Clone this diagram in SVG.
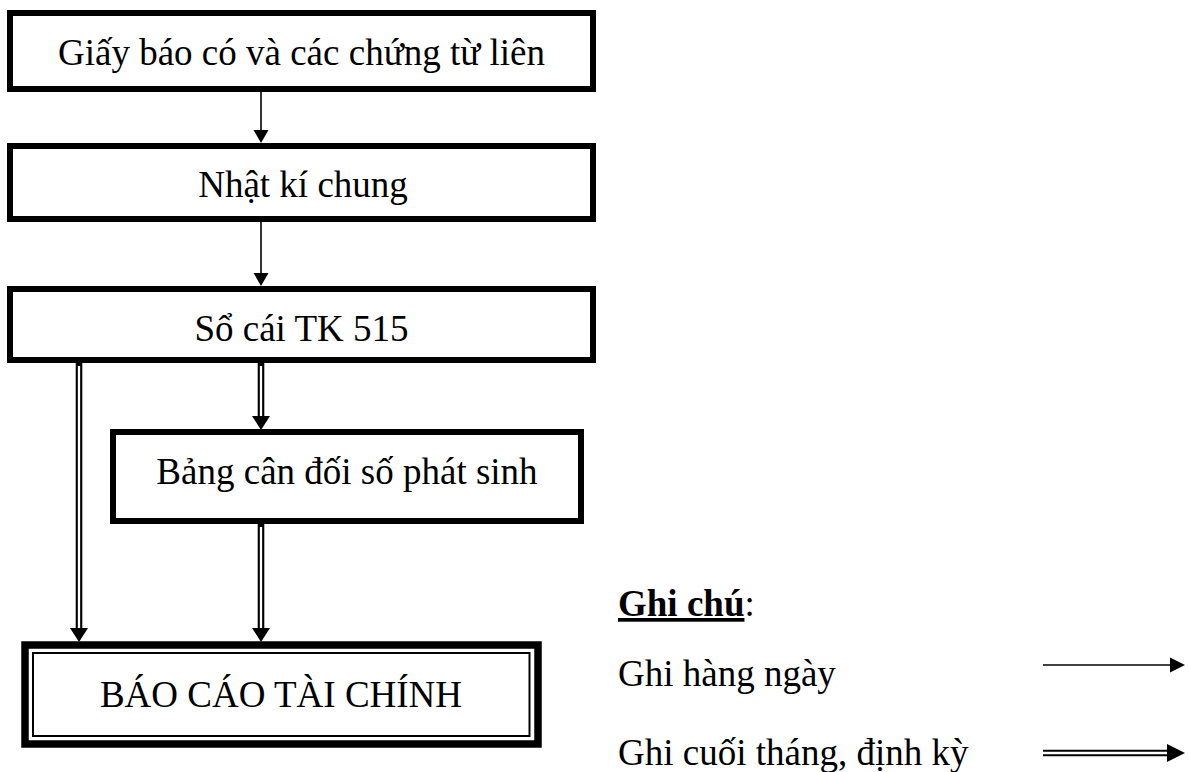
<svg xmlns="http://www.w3.org/2000/svg" width="1189" height="772" viewBox="0 0 1189 772">
  <style>
    .box { fill: #fff; stroke: #000; stroke-width: 6; }
    .thin { fill: none; stroke: #000; stroke-width: 2; }
    .label { font-family: "Liberation Serif", "Times New Roman", serif; font-size: 37px; fill: #000; }
    .mid { text-anchor: middle; }
    .line1 { stroke: #000; stroke-width: 1.6; fill: none; }
    .dbl-out { stroke: #000; stroke-width: 6.6; fill: none; }
    .dbl-in { stroke: #fff; stroke-width: 2.3; fill: none; }
    .head { fill: #000; }
  </style>
  <rect width="1189" height="772" fill="#fff"/>

  <!-- connectors -->
  <g id="connectors">
    <!-- daily: source documents -> journal -> ledger -->
    <line class="line1" x1="261" y1="92" x2="261" y2="131"/>
    <polygon class="head" points="253.5,130 268.5,130 261,143"/>
    <line class="line1" x1="261" y1="222" x2="261" y2="274"/>
    <polygon class="head" points="253.5,273 268.5,273 261,286"/>

    <!-- periodic: ledger -> financial report -->
    <line class="dbl-out" x1="79" y1="363" x2="79" y2="630"/>
    <line class="dbl-in" x1="79" y1="366" x2="79" y2="630"/>
    <polygon class="head" points="70,628 88,628 79,642"/>

    <!-- periodic: ledger -> trial balance -->
    <line class="dbl-out" x1="261" y1="363" x2="261" y2="418"/>
    <line class="dbl-in" x1="261" y1="366" x2="261" y2="418"/>
    <polygon class="head" points="252,416 270,416 261,430"/>

    <!-- periodic: trial balance -> financial report -->
    <line class="dbl-out" x1="261" y1="524" x2="261" y2="630"/>
    <line class="dbl-in" x1="261" y1="527" x2="261" y2="630"/>
    <polygon class="head" points="252,628 270,628 261,642"/>
  </g>

  <g id="node-chungtu">
    <rect class="box" x="10" y="13" width="583" height="76"/>
    <text class="label mid" x="301.5" y="65">Giấy báo có và các chứng từ liên</text>
  </g>

  <g id="node-nhatki">
    <rect class="box" x="10" y="146" width="583" height="73"/>
    <text class="label mid" x="303" y="197">Nhật kí chung</text>
  </g>

  <g id="node-socai">
    <rect class="box" x="10" y="289" width="583" height="71"/>
    <text class="label mid" x="301.5" y="341">Sổ cái TK 515</text>
  </g>

  <g id="node-bangcandoi">
    <rect class="box" x="113" y="432" width="468" height="89"/>
    <text class="label mid" x="347" y="484">Bảng cân đối số phát sinh</text>
  </g>

  <g id="node-baocao">
    <rect class="box" x="25" y="645" width="513" height="99" style="stroke-width:7.5"/>
    <rect class="thin" x="33" y="653" width="496.5" height="83"/>
    <text class="label mid" x="281" y="707">BÁO CÁO TÀI CHÍNH</text>
  </g>

  <g id="legend">
    <text class="label" x="618" y="616"><tspan font-weight="bold" text-decoration="underline">Ghi chú</tspan>:</text>
    <text class="label" x="618" y="686">Ghi hàng ngày</text>
    <line class="line1" x1="1043" y1="665" x2="1171" y2="665"/>
    <polygon class="head" points="1170,657.5 1170,672.5 1185,665"/>
    <text class="label" x="618" y="765">Ghi cuối tháng, định kỳ</text>
    <line class="dbl-out" x1="1043" y1="753" x2="1169" y2="753"/>
    <line class="dbl-in" x1="1043" y1="753" x2="1169" y2="753"/>
    <polygon class="head" points="1167,744 1167,762 1185,753"/>
  </g>
</svg>
